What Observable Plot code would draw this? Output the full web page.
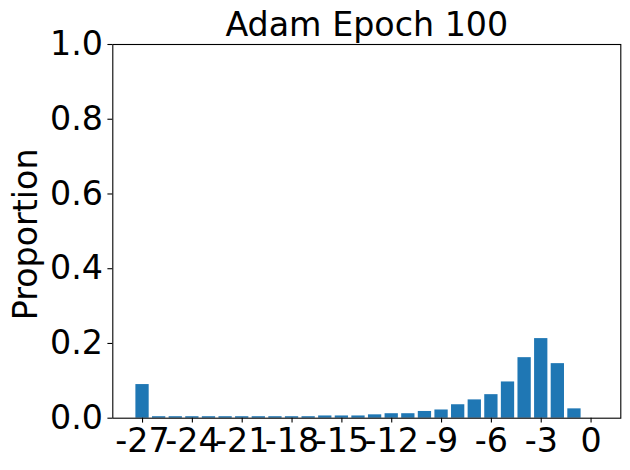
<!DOCTYPE html>
<html><head><meta charset="utf-8">
<script src="https://cdn.jsdelivr.net/npm/d3@7"></script>
<script src="https://cdn.jsdelivr.net/npm/@observablehq/plot@0.6"></script>
<style>html,body{margin:0;padding:0;background:#fff} svg{display:block}</style>
</head><body><div id="chart"></div>
<script>
const bins = [-27,-26,-25,-24,-23,-22,-21,-20,-19,-18,-17,-16,-15,-14,-13,-12,-11,-10,-9,-8,-7,-6,-5,-4,-3,-2,-1,0];
const proportions = [0.090,0.004,0.004,0.004,0.004,0.004,0.004,0.004,0.004,0.004,0.004,0.006,0.006,0.006,0.009,0.012,0.012,0.018,0.022,0.036,0.049,0.063,0.097,0.162,0.213,0.146,0.025,0];
const xTicks = [-27,-24,-21,-18,-15,-12,-9,-6,-3,0];
const yTicks = [0,0.2,0.4,0.6,0.8,1.0];
const title = "Adam Epoch 100";
const yLabel = "Proportion";

const data = bins.map((b, i) => ({bin: b, p: proportions[i]}));
const FS = 33.3;
const W = 630, H = 470;
const mL = 112.3, mR = 9.7, mT = 44, mB = 52.3;
const fmtX = d => (d < 0 ? "-" + Math.abs(d) : String(d));

const chart = Plot.plot({
  width: W, height: H,
  marginLeft: mL, marginRight: mR, marginTop: mT, marginBottom: mB,
  style: {fontFamily: "DejaVu Sans", fontSize: FS + "px", background: "#fff", color: "#000", overflow: "visible"},
  x: {domain: [-28.79, 1.79], ticks: xTicks, tickFormat: fmtX, label: null, tickSize: 4.9, tickPadding: 4.9},
  y: {domain: [0, 1], ticks: yTicks, tickFormat: d3.format(".1f"), label: null, tickSize: 4.9, tickPadding: 4.9},
  marks: [
    Plot.rectY(data, {x1: d => d.bin - 0.4, x2: d => d.bin + 0.4, y1: 0, y2: "p", fill: "#1f77b4"}),
    Plot.frame({stroke: "#000", strokeWidth: 1.1}),
    Plot.axisX({ticks: xTicks, tickFormat: fmtX, tickSize: 4.9, tickPadding: 4.9, strokeWidth: 1.1, fontSize: FS, label: null}),
    Plot.axisY({ticks: yTicks, tickFormat: d3.format(".1f"), tickSize: 4.9, tickPadding: 4.9, strokeWidth: 1.1, fontSize: FS, label: null}),
    Plot.text([title], {text: d => d, frameAnchor: "top", lineAnchor: "bottom", dy: -8.3, fontSize: FS, fill: "#000"}),
    Plot.text([yLabel], {text: d => d, frameAnchor: "left", textAnchor: "middle", rotate: -90, lineAnchor: "bottom", dx: -76, dy: 3, fontSize: FS, fill: "#000"})
  ]
});
document.getElementById("chart").appendChild(chart);
</script>
</body></html>
